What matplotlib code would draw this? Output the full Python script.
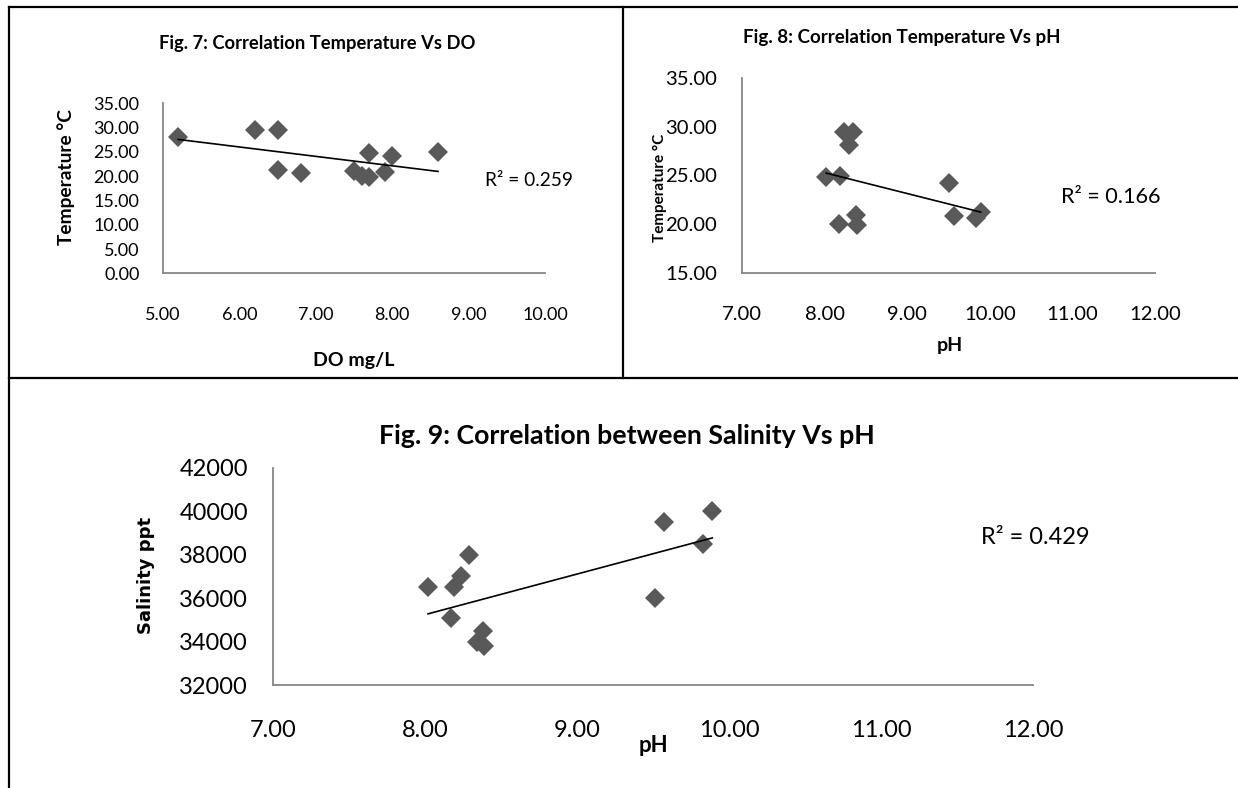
import numpy as np
import matplotlib
matplotlib.use("Agg")
import matplotlib.pyplot as plt
from matplotlib.lines import Line2D

# --- data (12 samples) ---
ph = [8.02, 8.29, 8.24, 8.19, 8.17, 8.38, 8.34, 8.39, 9.57, 9.89, 9.83, 9.51]
temp_ph = [24.8, 28.1, 29.5, 24.9, 20.0, 21.0, 29.5, 19.9, 20.8, 21.3, 20.6, 24.2]
salinity = [36500, 38000, 37000, 36500, 35100, 34500, 34000, 33800,
            39500, 40000, 38500, 36000]

do_vals = [5.2, 6.2, 6.5, 6.5, 6.8, 7.5, 7.6, 7.7, 7.7, 7.9, 8.0, 8.6]
temp_do = [28.1, 29.5, 29.5, 21.3, 20.6, 21.0, 20.0, 24.8, 19.9, 20.8, 24.2, 24.9]

r2_labels = ["R² = 0.259", "R² = 0.166", "R² = 0.429"]

W, H = 1238, 788
MARK = "#595959"
AXC = "#868686"
FONT = "Lato"

fig = plt.figure(figsize=(W / 100, H / 100), dpi=100)
fig.patch.set_facecolor("white")


def rect(x0, x1, ytop, ybot):
    return [x0 / W, 1 - ybot / H, (x1 - x0) / W, (ybot - ytop) / H]


def ftext(x, y, s, **kw):
    kw.setdefault("family", FONT)
    fig.text(x / W, 1 - y / H, s, **kw)


def scatter_panel(pos, x, y, xlim, ylim, yticks, tick_fs, ypad, xpad, yfmt):
    ax = fig.add_axes(pos)
    ax.plot(x, y, "D", color=MARK, markersize=10, markeredgewidth=0,
            clip_on=False, zorder=3)
    # linear trendline over the data range
    k, b = np.polyfit(x, y, 1)
    xs = np.array([min(x), max(x)])
    ax.plot(xs, k * xs + b, color="black", linewidth=1.2, zorder=4)
    ax.set_xlim(*xlim)
    ax.set_ylim(*ylim)
    ax.set_xticks(np.arange(xlim[0], xlim[1] + 0.1, 1.0))
    ax.set_xticklabels([f"{v:.2f}" for v in ax.get_xticks()])
    ax.set_yticks(yticks)
    ax.set_yticklabels([yfmt.format(v) for v in yticks])
    for s in ["top", "right"]:
        ax.spines[s].set_visible(False)
    for s in ["left", "bottom"]:
        ax.spines[s].set_color(AXC)
        ax.spines[s].set_linewidth(1.3)
    ax.tick_params(axis="both", length=0, labelsize=tick_fs)
    ax.tick_params(axis="y", pad=ypad)
    ax.tick_params(axis="x", pad=xpad)
    for lab in ax.get_xticklabels() + ax.get_yticklabels():
        lab.set_family(FONT)
    ax.patch.set_alpha(0)
    return ax


# Fig. 7
scatter_panel(rect(163, 545, 103.3, 273.3), do_vals, temp_do, (5, 10), (0, 35),
              np.arange(0, 36, 5), 13, 17, 24, "{:.2f}")
ftext(317, 44, "Fig. 7: Correlation Temperature Vs DO", fontsize=13.2,
      fontweight="bold", ha="center", va="center")
ftext(66, 177, "Temperature °C", fontsize=13.8, fontweight="bold",
      rotation=90, ha="center", va="center")
ftext(354, 360, "DO mg/L", fontsize=14, fontweight="bold", ha="center", va="center")
ftext(485, 180, r2_labels[0], fontsize=13.8, ha="left", va="center")

# Fig. 8
scatter_panel(rect(742, 1155, 78, 273), ph, temp_ph, (7, 12), (15, 35),
              np.arange(15, 36, 5), 14.6, 18, 24, "{:.2f}")
ftext(902, 38, "Fig. 8: Correlation Temperature Vs pH", fontsize=13.5,
      fontweight="bold", ha="center", va="center")
ftext(660, 188, "Temperature °C", fontsize=11, fontweight="bold",
      rotation=90, ha="center", va="center")
ftext(950, 345, "pH", fontsize=14, fontweight="bold", ha="center", va="center")
ftext(1061, 197, r2_labels[1], fontsize=15.6, ha="left", va="center")

# Fig. 9
scatter_panel(rect(273, 1033, 468, 685), ph, salinity, (7, 12), (32000, 42000),
              np.arange(32000, 42001, 2000), 17, 18, 25, "{:.0f}")
ftext(627, 436, "Fig. 9: Correlation between Salinity Vs pH", fontsize=19.3,
      fontweight="bold", ha="center", va="center")
ftext(146, 575, "Salinity ppt", fontsize=13, fontweight="bold", rotation=90,
      ha="center", va="center", family="DejaVu Sans")
ftext(653, 745, "pH", fontsize=16, fontweight="bold", ha="center", va="center")
ftext(981, 537, r2_labels[2], fontsize=17, ha="left", va="center")

# table borders
def border(x0, y0, x1, y1):
    fig.add_artist(Line2D([x0 / W, x1 / W], [1 - y0 / H, 1 - y1 / H],
                          color="black", linewidth=1.6))

border(9, 7, 1238, 7)
border(9, 7, 9, 788)
border(623, 7, 623, 378)
border(9, 378, 1238, 378)

fig.savefig("out.png", dpi=100)
